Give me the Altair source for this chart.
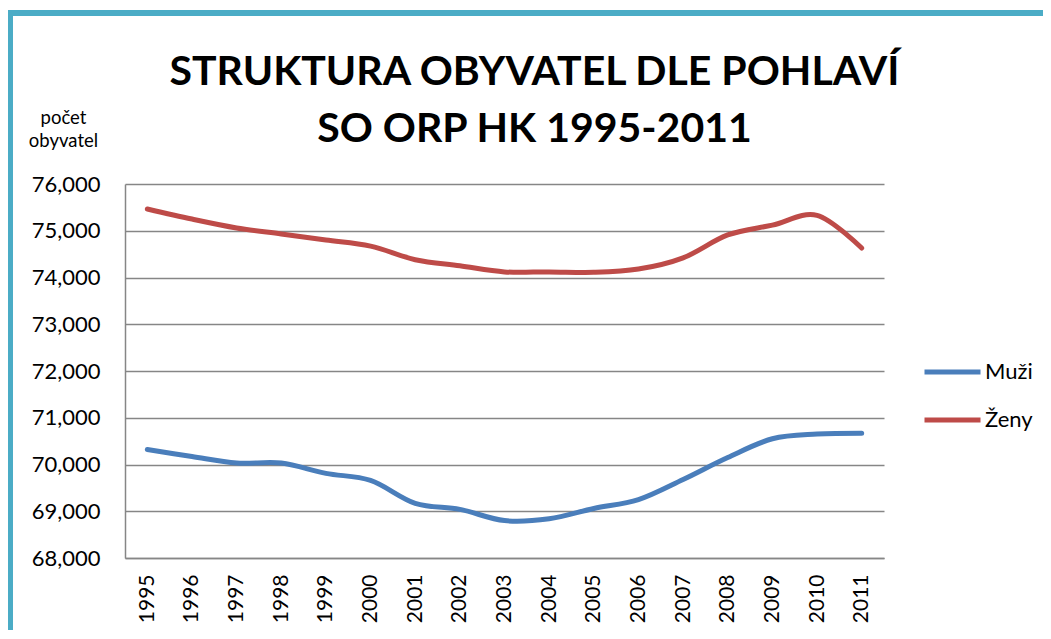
import altair as alt
import pandas as pd

years = [str(y) for y in range(1995, 2012)]
muzi = [70320, 70170, 70030, 70030, 69810, 69660, 69170, 69040, 68800,
        68840, 69060, 69250, 69680, 70150, 70550, 70650, 70670]
zeny = [75465, 75250, 75060, 74930, 74800, 74670, 74380, 74250, 74120,
        74120, 74110, 74180, 74420, 74910, 75120, 75330, 74630]
series = ["Muži", "Ženy"]
colors = ["#4A7EBB", "#BE4B48"]

df = pd.DataFrame({
    "rok": years * 2,
    "pocet": muzi + zeny,
    "pohlavi": [series[0]] * len(years) + [series[1]] * len(years),
})

W, H = 759, 374
FONT = "Lato"

lines = alt.Chart(df).mark_line(
    interpolate="cardinal", strokeWidth=5, strokeCap="round"
).encode(
    x=alt.X("rok:O", sort=years,
            scale=alt.Scale(type="point", padding=0.5),
            axis=alt.Axis(title=None, labelAngle=-90, labelFontSize=21,
                          labelFont=FONT, labelColor="#000000", ticks=False,
                          labelPadding=16, domainColor="#868686",
                          domainWidth=1.5, grid=False)),
    y=alt.Y("pocet:Q",
            scale=alt.Scale(domain=[68000, 76000], nice=False, zero=False),
            axis=alt.Axis(values=list(range(68000, 76001, 1000)), format=",.0f",
                          labelFontSize=22, labelFont=FONT,
                          labelColor="#000000", ticks=False, labelPadding=25,
                          domainColor="#868686", domainWidth=1.5,
                          gridColor="#868686", gridWidth=1.5,
                          title=["počet", "obyvatel"], titleAngle=0,
                          titleFont=FONT, titleFontSize=18.5,
                          titleFontWeight="normal", titleColor="#000000",
                          titleAlign="center", titleBaseline="alphabetic",
                          titleX=-62, titleY=-61, titleLineHeight=23)),
    color=alt.Color("pohlavi:N", sort=series,
                    scale=alt.Scale(domain=series, range=colors),
                    legend=alt.Legend(title=None, orient="none",
                                      legendX=797, legendY=176,
                                      symbolType="stroke", symbolSize=3136,
                                      symbolStrokeWidth=5, labelFontSize=22,
                                      labelFont=FONT, labelColor="#000000",
                                      clipHeight=24, rowPadding=24,
                                      labelOffset=2)),
)

border_top = alt.Chart(df).mark_rule(color="#4BACC6", strokeWidth=5).encode(
    x=alt.value(-117), x2=alt.value(940), y=alt.value(-171)
)
border_left = alt.Chart(df).mark_rule(color="#4BACC6", strokeWidth=5).encode(
    x=alt.value(-114.5), y=alt.value(-173.5), y2=alt.value(470)
)

chart = alt.layer(lines, border_top, border_left).properties(
    width=W, height=H,
    autosize=alt.AutoSizeParams(type="none"),
    padding={"left": 117, "top": 176, "right": 159, "bottom": 72},
    title=alt.TitleParams(
        ["STRUKTURA OBYVATEL DLE POHLAVÍ", "SO ORP HK 1995-2011"],
        font=FONT, fontSize=41, fontWeight="bold", color="#000000",
        anchor="middle", frame="group", dx=30, lineHeight=57, offset=-143),
).configure_view(stroke=None)

chart.save("out.html", embed_options={"renderer": "svg", "actions": False})
